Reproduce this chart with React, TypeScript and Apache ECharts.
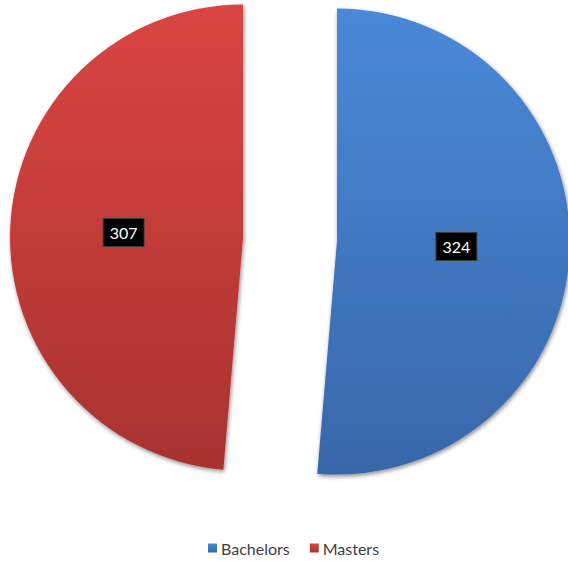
import React, { useEffect, useRef } from "react";
import * as echarts from "echarts";

const categories = ["Bachelors", "Masters"];
const values = [324, 307];
const topColors = ["#4a89d8", "#da4542"];
const bottomColors = ["#3867a9", "#a8322f"];

export default function App() {
  const ref = useRef<HTMLDivElement>(null);
  useEffect(() => {
    if (!ref.current) return;
    const chart = echarts.init(ref.current, null, { renderer: "svg" });
    const data = categories.map((name, i) => ({
      name,
      value: values[i],
      selected: true,
      itemStyle: {
        color: new echarts.graphic.LinearGradient(0, 0, 0, 1, [
          { offset: 0, color: topColors[i] },
          { offset: 1, color: bottomColors[i] },
        ]),
      },
    }));
    chart.setOption({
      animation: false,
      backgroundColor: "#ffffff",
      legend: {
        data: categories,
        left: 203,
        bottom: 0,
        icon: "rect",
        itemWidth: 9,
        itemHeight: 9,
        itemGap: 20,
        selectedMode: false,
        textStyle: { fontFamily: "Lato", fontSize: 16, color: "#404040", padding: [0, 0, 0, -1] },
      },
      series: [
        {
          type: "pie",
          center: [290, 239.5],
          radius: [0, 233],
          startAngle: 90,
          clockwise: true,
          selectedMode: "multiple",
          selectedOffset: 47,
          silent: true,
          data,
          itemStyle: {
            shadowBlur: 4,
            shadowColor: "rgba(0,0,0,0.45)",
            shadowOffsetX: 1,
            shadowOffsetY: 2,
          },
          label: {
            show: true,
            position: "inside",
            formatter: "{c}",
            color: "#ffffff",
            fontFamily: "Lato",
            fontSize: 16,
            backgroundColor: "#000000",
            padding: [6, 6, 5, 6],
            borderColor: "#3a3a3a",
            borderWidth: 1,
          },
          labelLine: { show: false },
        },
      ],
    });
    return () => chart.dispose();
  }, []);
  return (
    <div
      ref={ref}
      style={{ position: "fixed", left: 0, top: 0, width: 568, height: 561 }}
    />
  );
}
